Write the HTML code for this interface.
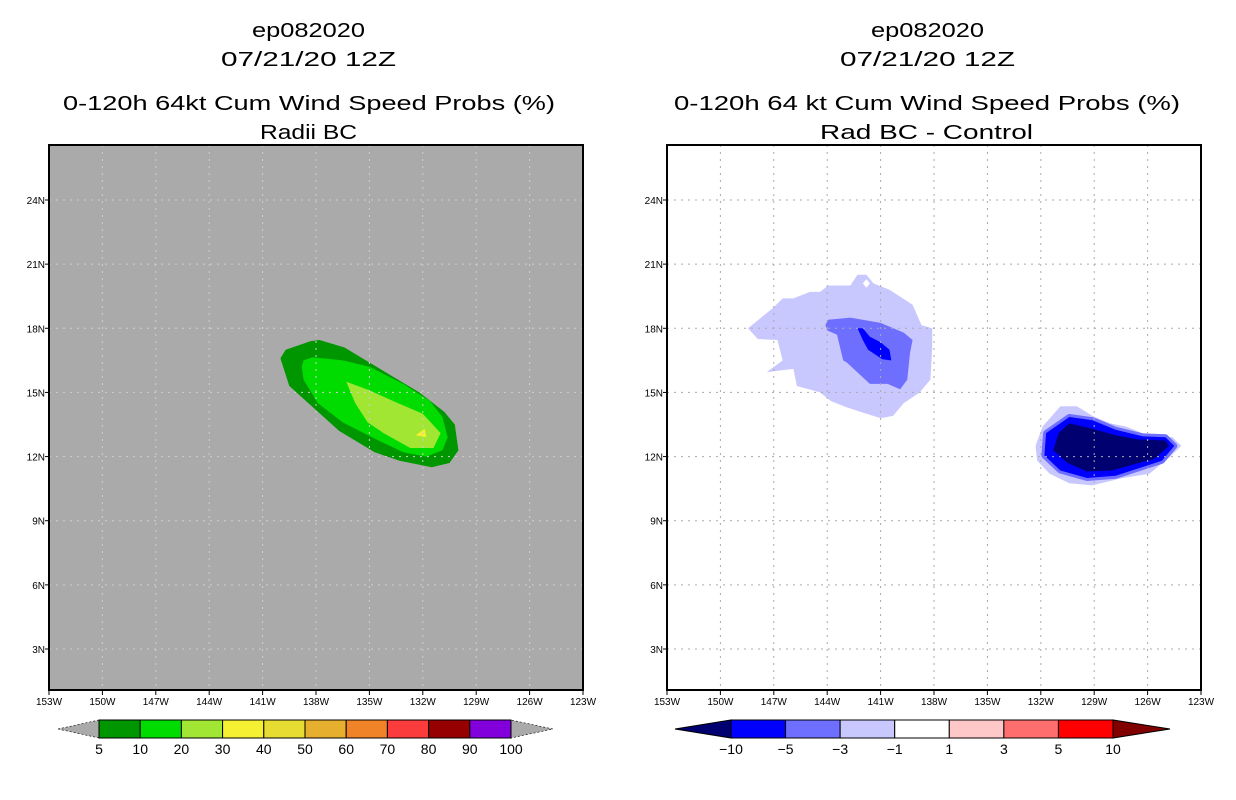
<!DOCTYPE html>
<html><head><meta charset="utf-8"><style>
body{margin:0;background:#fff;}
svg{display:block;font-family:"Liberation Sans",sans-serif;}
</style></head><body>
<svg id="fig" width="1236" height="800" viewBox="0 0 1236 800">
<g font-size="20" fill="#000">
<text x="252" y="37" textLength="113" lengthAdjust="spacingAndGlyphs">ep082020</text>
<text x="221" y="66" textLength="175" lengthAdjust="spacingAndGlyphs">07/21/20 12Z</text>
<text x="63" y="110" textLength="492" lengthAdjust="spacingAndGlyphs">0-120h 64kt Cum Wind Speed Probs (%)</text>
<text x="260" y="139" textLength="97" lengthAdjust="spacingAndGlyphs">Radii BC</text>
<text x="871" y="37" textLength="113" lengthAdjust="spacingAndGlyphs">ep082020</text>
<text x="840" y="66" textLength="175" lengthAdjust="spacingAndGlyphs">07/21/20 12Z</text>
<text x="674" y="110" textLength="506" lengthAdjust="spacingAndGlyphs">0-120h 64 kt Cum Wind Speed Probs (%)</text>
<text x="820" y="139" textLength="213" lengthAdjust="spacingAndGlyphs">Rad BC - Control</text>
</g>
</svg>
<script>
const lonTicks=[153,150,147,144,141,138,135,132,129,126,123];
const latTicks=[24,21,18,15,12,9,6,3];
// left panel contours [westLon, lat]
const leftC5=[[140.0,16.6],[139.7,17.0],[138.3,17.4],[137.8,17.45],[136.4,17.1],[134.4,16.1],[132.2,15.0],[130.8,14.1],[130.2,13.5],[130.0,12.3],[130.5,11.7],[131.5,11.5],[133.3,11.8],[134.7,12.2],[136.7,13.2],[138.3,14.4],[139.5,15.3]];
const leftC10=[[138.7,16.5],[138.2,16.65],[136.5,16.5],[135.0,16.2],[133.1,15.4],[131.6,14.6],[130.9,13.85],[130.6,12.9],[130.9,12.3],[131.8,12.0],[133.1,12.2],[134.6,12.8],[136.5,13.6],[137.9,14.5],[138.7,15.6],[138.8,16.2]];
const leftC20=[[136.3,15.5],[135.0,15.1],[133.4,14.5],[132.0,14.0],[131.0,13.1],[131.4,12.4],[132.7,12.4],[134.2,13.1],[135.1,13.6],[135.8,14.5]];
const leftC30=[[132.4,13.0],[131.9,13.3],[131.8,12.9]];
// right panel contours
const rA1=[[148.45,18.0],[147.05,18.95],[146.5,19.4],[145.9,19.4],[144.97,19.7],[144.4,19.7],[143.95,20.0],[142.7,20.0],[142.3,20.5],[141.8,20.5],[141.4,20.1],[140.5,19.8],[139.2,19.1],[138.7,18.15],[138.1,18.0],[138.1,17.1],[138.2,15.6],[138.8,15.0],[139.7,14.5],[140.3,13.9],[141.0,13.8],[141.8,14.0],[142.9,14.3],[143.8,14.6],[144.4,15.0],[145.7,15.3],[145.9,16.1],[147.4,15.95],[146.5,16.5],[146.8,17.45],[147.9,17.5]];
const rA3=[[144.1,18.15],[143.95,18.4],[142.7,18.5],[141.0,18.25],[139.7,17.8],[139.2,17.45],[139.35,16.85],[139.5,15.6],[139.9,15.15],[140.6,15.4],[141.6,15.4],[142.9,16.4],[143.1,16.5],[143.45,17.7],[144.0,17.9]];
const rA5=[[142.3,18.0],[142.0,18.0],[141.6,17.6],[141.0,17.35],[140.5,17.0],[140.4,16.5],[140.9,16.55],[141.7,17.0],[142.0,17.45]];
const rB1=[[130.9,14.35],[129.97,14.35],[129.1,13.9],[128.1,13.55],[127.2,13.4],[126.0,13.0],[124.6,12.9],[124.1,12.5],[124.8,11.95],[125.9,11.2],[127.4,11.0],[129.1,10.65],[130.4,10.75],[131.5,11.2],[132.2,11.8],[132.3,12.5],[131.9,13.4]];
const rB5=[[130.4,13.85],[129.1,13.7],[127.8,13.25],[126.3,12.95],[125.0,12.9],[124.5,12.5],[125.2,11.8],[126.5,11.45],[127.8,11.1],[129.4,11.0],[130.9,11.35],[131.8,12.05],[131.7,13.1]];
const rB10=[[130.4,13.55],[129.1,13.3],[127.8,13.0],[126.5,12.8],[125.0,12.75],[124.8,12.5],[125.6,11.9],[126.5,11.7],[128.0,11.35],[129.4,11.3],[130.5,11.7],[131.3,12.3],[131.0,13.1]];
const leftBarLabels=["5","10","20","30","40","50","60","70","80","90","100"];
const leftBarColors=["#009600","#00dc00","#a0e632","#f5f032","#e6dc32","#e6af2d","#f08228","#fa3c3c","#960000","#8200dc"];
const rightBarLabels=["-10","-5","-3","-1","1","3","5","10"];
const rightBarColors=["#0000ff","#6e6eff","#c8c8ff","#ffffff","#ffc8c8","#ff6e6e","#ff0000"];

const NS="http://www.w3.org/2000/svg";
const svg=document.getElementById('fig');
function mk(tag,attrs,parent){const e=document.createElementNS(NS,tag);for(const k in attrs)e.setAttribute(k,attrs[k]);(parent||svg).appendChild(e);return e;}
const top0=145,bot0=690,W0=153,W1=123;
function xs(x0){return w=>x0+(W0-w)*(534/(W0-W1));}
function ys(lat){return 200+(24-lat)*(449/21);}
function pts(arr,xf){return arr.map(p=>xf(p[0]).toFixed(1)+','+ys(p[1]).toFixed(1)).join(' ');}

function panel(x0,bg,name){
  const g=mk('g',{});
  
  
  const r=mk('rect',{x:x0,y:top0,width:534,height:bot0-top0,fill:bg},g);
  
  
  return g;
}
function grid(g,x0,col){
  const xf=xs(x0);
  lonTicks.slice(1,-1).forEach(w=>{const l=mk('line',{x1:xf(w),x2:xf(w),y1:top0,y2:bot0,stroke:col,'stroke-width':1,'stroke-dasharray':'2,5'},g);
    
    });
  latTicks.forEach(t=>{const l=mk('line',{x1:x0,x2:x0+534,y1:ys(t),y2:ys(t),stroke:col,'stroke-width':1,'stroke-dasharray':'2,5'},g);
    
    });
}
function axes(g,x0){
  const xf=xs(x0);
  const b=mk('rect',{x:x0,y:top0,width:534,height:bot0-top0,fill:'none',stroke:'#000','stroke-width':2},g);
  
  
  lonTicks.forEach(w=>{
    mk('line',{x1:xf(w),x2:xf(w),y1:bot0,y2:bot0+5,stroke:'#000'},g);
    const t=mk('text',{x:xf(w),y:bot0+15,'font-size':10,'text-anchor':'middle'},g);t.textContent=w+'W';
    
    
  });
  latTicks.forEach(l=>{
    mk('line',{x1:x0-4,x2:x0,y1:ys(l),y2:ys(l),stroke:'#000'},g);
    const t=mk('text',{x:x0-4,y:ys(l)+4,'font-size':10,'text-anchor':'end'},g);t.textContent=l+'N';
    
    
  });
}
function poly(g,arr,xf,fill,name,extra){
  const p=mk('polygon',Object.assign({points:pts(arr,xf),fill:fill},extra||{}),g);
  
  
}
const gl=panel(49,'#aaaaaa','left-map');
const xl=xs(49);
poly(gl,leftC5,xl,'#009600','contour-5');
poly(gl,leftC10,xl,'#00dc00','contour-10');
poly(gl,leftC20,xl,'#a0e632','contour-20');
poly(gl,leftC30,xl,'#f5f032','contour-30');
grid(gl,49,'#cfcfcf');
axes(gl,49);
const gr=panel(667,'#ffffff','right-map');
const xr=xs(667);
poly(gr,rA1,xr,'#c8c8ff','diff-area1-minus1');
poly(gr,rA3,xr,'#6e6eff','diff-area1-minus3');
poly(gr,rA5,xr,'#0000ff','diff-area1-minus5');
poly(gr,rB1,xr,'#c8c8ff','diff-area2-minus1');
poly(gr,rB5,xr,'#6e6eff','diff-area2-minus3',{stroke:'#6e6eff','stroke-width':6,'stroke-linejoin':'round'});
poly(gr,rB5,xr,'#0000ff','diff-area2-minus5');
poly(gr,rB10,xr,'#000070','diff-area2-minus10');
poly(gr,[[142.0,20.1],[141.8,20.3],[141.6,20.1],[141.8,19.9]],xr,'#ffffff','diff-hole');
grid(gr,667,'#aaaaaa');
axes(gr,667);

function colorbar(name,x0,x1,y,h,labels,colors,lc,rc,tipL,tipR,dashTips){
  const g=mk('g',{});
  
  
  const n=colors.length, w=(x1-x0)/n;
  const tl=mk('polygon',{points:`${tipL},${y+h/2} ${x0},${y} ${x0},${y+h}`,fill:lc,stroke:'#000','stroke-width':dashTips?0.6:1,'stroke-dasharray':dashTips?'2,2':'none'},g);
  
  
  const tr=mk('polygon',{points:`${tipR},${y+h/2} ${x1},${y} ${x1},${y+h}`,fill:rc,stroke:'#000','stroke-width':dashTips?0.6:1,'stroke-dasharray':dashTips?'2,2':'none'},g);
  
  
  colors.forEach((c,i)=>{const r=mk('rect',{x:x0+i*w,y:y,width:w,height:h,fill:c,stroke:'#000','stroke-width':1},g);
    
    });
  labels.forEach((l,i)=>{const t=mk('text',{x:x0+i*w,y:y+h+16,'font-size':14,'text-anchor':'middle'},g);t.textContent=l.replace('-','\u2212');
    
    });
}
colorbar('left-colorbar',99,511,720,18,leftBarLabels,leftBarColors,'#aaaaaa','#aaaaaa',58,553,true);
colorbar('right-colorbar',731,1113,720,18,rightBarLabels,rightBarColors,'#000070','#800000',675,1170,false);
</script>
</body></html>
